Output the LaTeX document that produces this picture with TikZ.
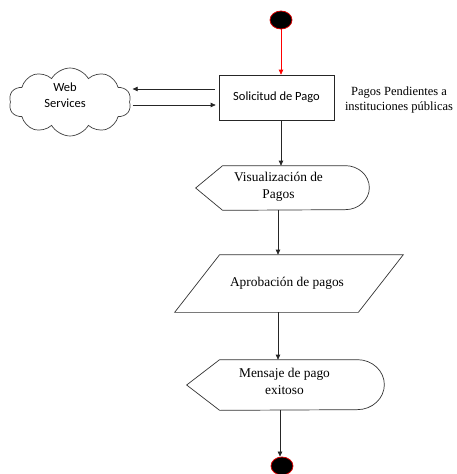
\documentclass[tikz,border=0pt]{standalone}
\usepackage{fontspec}
\setmainfont{Liberation Serif}
\newfontfamily\calib{Carlito}
\usetikzlibrary{shapes.geometric,shapes.symbols,arrows.meta,calc}
\begin{document}
\begin{tikzpicture}[x=1pt,y=-1pt,
  line width=0.7pt,
  arr/.style={draw=black!85,-{Triangle[length=5pt,width=4.5pt]}},
  edge/.style={draw=black!80},
  terminal/.style={ellipse,draw=red!85!black,fill=black,line width=0.8pt,minimum width=22pt,minimum height=18pt,inner sep=0pt},
  serif/.style={font=\fontsize{12.5}{15}\selectfont,align=center},
  shapetext/.style={font=\fontsize{13.4}{16.5}\selectfont,align=center},
  sans/.style={font=\calib\fontsize{12.5}{16}\selectfont,align=center},
  holder/.style={inner sep=0pt}]
\useasboundingbox (0,0) rectangle (456,474);

% terminals
\node[terminal] (start) at (281,20) {};
\node[terminal] (stop) at (282,466) {};

% request box
\node[draw=black!85,minimum width=115pt,minimum height=45pt,inner sep=0pt,sans] (sol) at (276.5,97.5) {Solicitud de Pago};
\node[serif] (pend) at (399,99.5) {Pagos Pendientes a\\instituciones públicas};

% cloud
\node[cloud,draw=black!75,cloud puffs=10,cloud puff arc=120,aspect=1.8,minimum width=122pt,minimum height=68pt,inner sep=0pt] (ws) at (70,102) {};
\node[sans] (wstext) at (65,95) {Web\\Services};

% display 1
\node[holder,minimum width=173pt,minimum height=44pt] (vis) at (282.5,188) {};
\draw[edge] (vis.west) -- ([xshift=27pt]vis.north west) -- ([xshift=-24pt]vis.north east)
  arc[start angle=90,end angle=-90,x radius=24pt,y radius=22pt] -- ([xshift=27pt]vis.south west) -- cycle;
\node[shapetext] (vistext) at (278.5,187) {Visualización de\\Pagos};

% parallelogram
\node[holder,minimum width=228pt,minimum height=57pt] (apr) at (289,283.5) {};
\draw[edge] ([xshift=45pt]apr.north west) -- (apr.north east) -- ([xshift=-45pt]apr.south east) -- (apr.south west) -- cycle;
\node[shapetext] (aprtext) at (287,283) {Aprobación de pagos};

% display 2
\node[holder,minimum width=197pt,minimum height=50pt] (msg) at (285.5,385) {};
\draw[edge] (msg.west) -- ([xshift=33pt]msg.north west) -- ([xshift=-27pt]msg.north east)
  arc[start angle=90,end angle=-90,x radius=27pt,y radius=25pt] -- ([xshift=33pt]msg.south west) -- cycle;
\node[shapetext] (msgtext) at (284.5,381.5) {Mensaje de pago\\exitoso};

% connectors
\draw[arr,draw=red,-{Triangle[length=5pt,width=4.5pt]}] (start.south) -- (start.south |- sol.north);
\draw[arr] ([shift={(-4,-8.5)}]sol.west) -- ([shift={(-86,-8.5)}]sol.west);
\draw[arr] ([shift={(-86,7.5)}]sol.west) -- ([shift={(-3,7.5)}]sol.west);
\draw[arr] ([xshift=4.5pt]sol.south) -- ([xshift=4.5pt]sol.south |- vis.north);
\draw[arr] ([xshift=-4.5pt]vis.south) -- ([xshift=-4.5pt]vis.south |- apr.north);
\draw[arr] ([xshift=-11pt]apr.south) -- ([xshift=-11pt]apr.south |- msg.north);
\draw[arr] ([xshift=-5.5pt]msg.south) -- ([xshift=-5.5pt]msg.south |- stop.north);
\end{tikzpicture}
\end{document}
